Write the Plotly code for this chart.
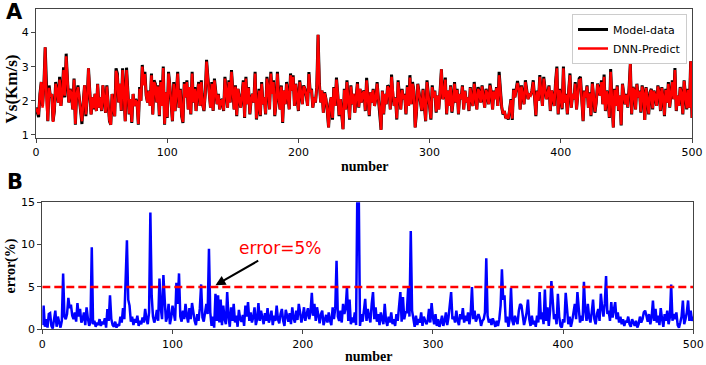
import plotly.graph_objects as go

W, H = 706, 365

def parse(s):
    return [float(v) for v in s.split()]

# Model-data (Vs, Km/s), index 0..500
model_vs = parse("""
1.80 1.62 1.52 2.20 2.55 1.85 2.45 3.57 2.10 1.40
2.45 2.10 2.20 1.40 1.70 2.55 2.30 1.95 2.70 1.85
2.25 2.98 2.10 3.38 2.60 1.95 2.35 2.20 1.75 2.65
1.30 2.20 2.45 2.10 1.70 1.32 1.95 2.45 1.55 2.05
2.95 2.40 1.60 2.10 1.75 2.20 1.70 2.50 1.80 2.10
1.70 2.45 2.10 1.65 2.45 1.90 1.40 1.30 2.20 1.80
1.55 2.95 2.80 1.95 2.50 1.70 2.95 2.25 1.40 2.97
2.40 1.60 2.05 1.35 2.20 1.85 2.05 1.95 1.30 2.40
2.00 3.05 2.50 2.85 2.15 1.95 2.30 1.85 2.80 1.60
2.60 2.50 1.95 2.45 1.55 2.60 1.85 3.00 1.30 2.25
1.50 2.85 2.45 2.00 1.40 2.55 1.70 2.25 2.85 1.80
2.35 1.55 1.35 2.55 2.10 2.60 1.75 2.40 1.60 2.85
1.95 2.40 1.70 2.25 2.55 1.85 2.60 1.90 1.70 2.20
3.20 2.70 2.15 1.80 2.55 1.70 2.65 2.30 1.90 2.20
1.75 2.00 2.05 1.70 2.70 2.30 1.80 2.60 1.95 2.90
2.10 1.75 2.45 1.55 2.35 2.00 1.80 2.15 2.60 1.50
2.70 1.90 2.40 1.60 2.05 2.20 1.95 2.85 1.45 1.80
2.35 1.55 2.55 1.90 2.10 1.60 2.70 2.40 1.75 2.85
2.20 2.60 1.55 1.95 2.85 2.10 1.75 2.45 1.35 2.30
1.90 2.55 2.10 1.75 2.80 2.30 2.75 1.85 2.50 2.10
1.70 2.60 2.25 1.90 2.45 2.35 2.15 1.85 2.84 2.25
2.35 1.80 2.10 1.95 2.40 3.93 2.50 1.95 2.30 1.65
2.25 2.05 1.70 1.22 1.90 2.10 1.45 2.40 1.85 2.68
2.20 1.55 2.05 1.60 1.17 2.35 1.75 2.60 2.10 1.45
2.45 1.90 2.20 1.65 2.10 2.55 1.80 2.35 1.95 2.20
2.30 1.70 2.67 2.10 1.55 2.25 1.95 2.35 1.85 2.05
2.55 2.05 1.70 1.15 2.30 1.60 2.20 1.90 2.45 2.40
1.75 2.77 2.15 1.85 2.10 1.45 2.60 2.05 1.75 2.35
2.05 2.20 1.60 2.45 1.85 2.75 1.90 2.55 2.30 1.22
1.65 2.50 2.25 2.05 1.70 2.35 1.90 1.40 2.60 2.20
1.85 1.45 2.45 2.10 2.30 1.65 2.15 1.75 2.30 2.92
2.05 2.20 2.68 1.60 2.30 1.85 2.45 1.65 2.00 2.55
1.95 2.35 1.60 2.20 2.05 2.45 1.75 2.30 1.95 2.10
1.70 2.40 2.05 1.85 2.55 2.20 1.75 2.40 2.25 1.95
2.45 2.10 1.80 2.35 2.20 1.90 2.50 2.25 1.75 2.30
2.05 2.40 1.85 2.85 2.30 1.80 1.60 1.70 1.50 1.55
1.45 1.85 2.05 1.44 2.35 2.10 2.40 2.58 2.35 1.75
2.45 2.15 1.90 2.60 2.25 2.05 2.20 2.15 2.30 2.60
2.10 1.55 2.30 2.00 2.75 2.15 1.85 2.70 2.40 2.05
2.20 2.45 1.70 2.30 2.10 1.85 2.55 3.00 1.60 2.35
2.05 1.75 3.00 1.95 2.20 1.60 2.30 2.80 1.80 2.20
2.05 2.55 1.75 2.20 2.65 2.70 1.95 1.40 2.30 2.10
2.45 1.80 2.25 1.55 2.55 2.20 1.65 1.95 2.50 2.35
2.15 2.60 1.90 2.77 1.70 2.30 2.10 1.50 2.93 2.05
1.22 2.35 1.85 2.45 1.70 2.15 1.28 2.50 2.20 1.90
2.20 1.80 2.35 3.10 1.60 2.40 2.30 1.75 2.50 2.10
2.30 1.65 2.45 2.20 1.44 2.40 2.05 1.60 2.25 2.35
1.75 2.30 2.15 1.85 2.45 2.25 1.70 2.40 2.10 1.55
2.35 1.95 2.55 1.80 2.20 2.60 2.05 2.96 1.70 2.15
1.85 2.40 2.20 1.60 2.60 2.10 1.75 2.35 1.80 3.16
1.50
""")

# DNN-Predict (Vs, Km/s), index 0..500
dnn_vs = parse("""
1.78 1.70 1.60 2.18 2.55 1.80 2.45 3.57 2.05 1.42
2.38 2.12 2.20 1.38 1.72 2.50 2.30 1.95 2.62 1.85
2.20 2.90 2.15 3.30 2.60 1.95 2.33 2.20 1.75 2.62
1.32 2.18 2.40 2.10 1.72 1.40 1.95 2.45 1.60 2.05
2.95 2.38 1.60 2.10 1.78 2.20 1.70 2.48 1.80 2.10
1.72 2.45 2.08 1.65 2.42 1.90 1.42 1.30 2.20 1.80
1.55 2.88 2.72 1.95 2.50 1.72 2.90 2.25 1.40 2.90
2.40 1.62 2.05 1.38 2.20 1.85 2.02 1.95 1.32 2.35
2.00 3.00 2.45 2.78 2.15 1.95 2.28 1.85 2.75 1.60
2.55 2.45 1.95 2.42 1.58 2.55 1.85 2.96 1.32 2.25
1.52 2.80 2.45 2.00 1.42 2.50 1.70 2.25 2.80 1.80
2.32 1.58 1.38 2.50 2.10 2.55 1.75 2.40 1.62 2.80
1.95 2.35 1.70 2.25 2.50 1.85 2.55 1.90 1.72 2.20
3.15 2.65 2.15 1.80 2.50 1.72 2.60 2.30 1.90 2.18
1.75 2.00 2.02 1.72 2.65 2.30 1.80 2.55 1.95 2.85
2.10 1.75 2.42 1.58 2.35 2.00 1.80 2.15 2.55 1.52
2.65 1.90 2.38 1.62 2.05 2.20 1.95 2.80 1.48 1.80
2.30 1.58 2.50 1.90 2.10 1.62 2.65 2.40 1.75 2.80
2.20 2.55 1.58 1.95 2.80 2.10 1.75 2.42 1.38 2.30
1.90 2.50 2.10 1.75 2.75 2.30 2.70 1.85 2.48 2.10
1.72 2.55 2.25 1.90 2.42 2.35 2.15 1.85 2.78 2.25
2.32 1.80 2.10 1.95 2.38 3.93 2.48 1.95 2.30 1.65
2.22 2.05 1.72 1.22 1.90 2.10 1.50 2.38 1.85 2.62
2.20 1.58 2.05 1.62 1.17 2.32 1.75 2.55 2.10 1.48
2.42 1.90 2.20 1.65 2.10 2.50 1.82 2.35 1.95 2.20
2.28 1.72 2.60 2.10 1.58 2.25 1.95 2.32 1.85 2.05
2.50 2.05 1.72 1.15 2.28 1.62 2.20 1.90 2.42 2.35
1.75 2.70 2.15 1.85 2.08 1.48 2.55 2.05 1.75 2.32
2.05 2.18 1.62 2.40 1.85 2.68 1.90 2.50 2.28 1.22
1.68 2.48 2.25 2.05 1.72 2.32 1.90 1.42 2.55 2.20
1.85 1.48 2.40 2.10 2.28 1.68 2.15 1.75 2.28 2.92
2.05 2.18 2.62 1.62 2.30 1.85 2.42 1.68 2.00 2.50
1.95 2.32 1.62 2.20 2.05 2.42 1.75 2.28 1.95 2.10
1.72 2.38 2.05 1.85 2.50 2.20 1.75 2.35 2.25 1.95
2.42 2.10 1.80 2.32 2.20 1.90 2.45 2.25 1.75 2.28
2.05 2.38 1.85 2.75 2.28 1.80 1.62 1.70 1.52 1.55
1.48 1.85 2.02 1.48 2.32 2.10 2.38 2.52 2.35 1.75
2.42 2.15 1.90 2.55 2.25 2.05 2.18 2.15 2.28 2.55
2.10 1.58 2.28 2.00 2.70 2.15 1.85 2.65 2.38 2.05
2.20 2.42 1.72 2.30 2.10 1.85 2.52 2.95 1.62 2.32
2.05 1.78 2.95 1.95 2.18 1.62 2.30 2.75 1.80 2.20
2.05 2.50 1.75 2.18 2.60 2.62 1.95 1.42 2.28 2.10
2.42 1.80 2.22 1.58 2.50 2.20 1.68 1.95 2.48 2.32
2.15 2.55 1.90 2.70 1.72 2.28 2.10 1.52 2.85 2.05
1.22 2.32 1.85 2.42 1.72 2.15 1.30 2.48 2.20 1.90
2.18 1.82 2.32 3.10 1.62 2.38 2.30 1.75 2.48 2.10
2.28 1.68 2.42 2.20 1.44 2.38 2.05 1.62 2.22 2.32
1.78 2.28 2.15 1.85 2.42 2.25 1.72 2.38 2.10 1.58
2.32 1.95 2.50 1.82 2.20 2.55 2.05 2.90 1.72 2.15
1.85 2.38 2.20 1.62 2.58 2.10 1.78 2.32 1.80 3.16
1.50
""")

# Relative error (%), index 0..500
error_pct = parse("""
0.5 2.8 0.3 1.2 0.2 1.8 1.9 0.4 0.1 1.3
2.2 0.3 1.5 0.8 0.2 1.0 6.6 1.5 1.2 1.8
3.7 2.5 2.9 1.6 1.2 2.0 0.9 3.1 1.5 2.4
0.8 1.2 2.0 0.5 2.6 1.3 0.4 0.8 9.7 0.6
1.0 0.3 0.8 0.5 1.2 0.4 0.9 0.6 1.3 0.2
2.4 1.0 4.0 1.2 0.5 0.3 0.9 0.2 0.6 0.4
1.5 0.8 2.5 1.2 5.0 10.5 3.5 2.8 0.9 1.5
0.5 1.2 0.8 1.6 0.4 1.0 0.6 1.4 0.8 2.4
1.2 0.6 2.0 13.8 4.0 1.5 0.8 1.3 2.3 1.0
6.0 2.5 1.2 6.4 3.5 0.9 1.5 3.0 0.6 1.4
2.8 1.8 1.0 5.5 3.0 6.6 1.5 0.9 2.2 1.2
3.0 1.6 0.8 2.5 1.2 3.1 2.0 1.0 0.5 1.8
1.0 2.5 5.3 1.4 0.9 2.0 3.0 1.8 9.5 2.0
0.4 1.5 0.2 4.2 1.0 4.0 0.8 3.5 0.5 2.8
1.2 0.6 4.4 1.5 0.3 2.6 1.0 3.0 0.8 1.6
0.3 2.3 1.2 0.9 1.7 0.4 2.8 1.5 3.2 1.0
2.0 0.8 1.4 2.6 0.5 1.2 3.1 1.0 2.2 1.4
0.6 1.9 1.0 2.5 0.8 1.3 2.2 0.5 1.6 1.0
2.8 1.2 0.7 1.8 2.4 1.0 0.4 2.3 1.5 0.9
1.9 0.6 2.6 1.3 0.8 2.2 1.1 3.0 2.0 0.8
1.5 2.6 1.0 1.8 2.5 1.2 2.0 4.3 1.6 3.0
1.0 2.6 1.4 0.7 1.8 2.2 0.5 1.2 1.7 0.8
2.0 1.0 0.5 2.6 1.2 2.5 8.1 1.5 1.0 2.2
0.8 3.0 1.8 2.5 5.0 1.0 3.5 0.6 1.4 0.8
2.0 0.5 17.0 17.0 0.4 1.8 0.9 2.2 3.6 1.0
2.4 1.5 0.8 3.0 4.4 1.2 2.6 0.9 1.8 0.5
2.0 1.2 0.6 3.0 1.0 0.4 1.5 0.8 2.0 0.6
1.2 0.4 1.8 1.0 2.5 4.4 0.9 3.8 1.2 2.0
2.0 4.9 1.5 11.6 2.2 1.0 0.3 1.6 0.5 1.2
0.8 2.0 0.4 1.5 1.0 0.6 1.0 2.4 0.8 3.1
1.4 0.6 1.8 0.4 1.2 0.3 0.8 1.6 0.4 1.0
2.0 0.5 1.4 2.8 4.4 1.2 1.5 0.8 2.2 1.0
0.5 1.8 1.2 2.5 0.8 1.6 1.0 2.0 0.6 1.8
5.0 1.2 2.2 0.9 1.5 1.8 1.3 0.4 1.0 1.2
2.0 8.4 1.6 0.8 1.2 0.5 1.3 0.9 0.3 1.0
0.4 1.2 2.8 7.1 3.5 4.0 0.8 1.5 0.3 1.2
4.9 1.0 0.5 1.6 1.0 0.6 2.2 3.0 2.8 1.4
0.5 1.2 2.0 3.5 1.2 0.4 1.6 0.6 1.0 0.3
1.6 0.8 4.4 1.2 2.0 0.6 4.7 1.0 2.6 0.4
2.2 5.7 3.0 1.2 1.8 0.6 4.2 1.5 0.4 0.2
1.2 0.8 4.3 2.0 0.6 1.5 0.3 1.0 2.0 3.0
1.2 4.4 2.5 0.8 1.6 1.0 5.6 2.2 1.0 3.0
1.4 0.8 2.0 3.5 1.2 0.6 1.8 2.4 1.0 4.2
2.6 1.5 3.0 6.3 1.8 2.2 1.0 3.2 1.4 2.5
3.2 1.2 2.0 0.8 1.5 0.6 1.2 0.4 1.0 0.8
1.5 0.6 0.3 1.2 0.8 0.4 1.0 0.2 0.6 1.5
0.8 1.2 2.0 2.2 1.6 0.9 1.8 0.6 1.4 3.4
1.0 2.4 0.8 1.6 0.5 2.5 1.2 0.3 1.8 1.0
2.2 0.6 1.4 5.3 1.0 1.8 1.2 2.0 0.5 0.2
0.8 1.5 3.4 0.6 1.2 2.0 3.4 1.0 2.2 1.0
1.5
""")

sample_no = list(range(len(model_vs)))
threshold = 5.0
x_ticks = [0, 100, 200, 300, 400, 500]

def px_x(p):
    return p / W

def px_y(p):
    return 1 - p / H

fig = go.Figure()
fig.add_trace(go.Scatter(x=sample_no, y=model_vs, mode="lines", name="Model-data",
                         line=dict(color="black", width=3), xaxis="x", yaxis="y"))
fig.add_trace(go.Scatter(x=sample_no, y=dnn_vs, mode="lines", name="DNN-Predict",
                         line=dict(color="#ff0000", width=2.5), xaxis="x", yaxis="y"))
fig.add_trace(go.Scatter(x=sample_no[:len(error_pct)], y=error_pct, mode="lines",
                         showlegend=False, line=dict(color="#0000ff", width=2.5),
                         xaxis="x2", yaxis="y2"))
fig.add_trace(go.Scatter(x=[x_ticks[0], x_ticks[-1]], y=[threshold, threshold], mode="lines",
                         showlegend=False, line=dict(color="#ff0000", width=2.5, dash="8px,4px"),
                         xaxis="x2", yaxis="y2"))

tickfont = dict(family="DejaVu Sans", size=11, color="black")
axis_common = dict(showline=True, mirror=True, linecolor="#444", linewidth=1.3,
                   ticks="outside", ticklen=4, tickcolor="#444", tickwidth=1,
                   showgrid=False, zeroline=False, tickfont=tickfont, automargin=False)

fig.update_layout(
    template="none",
    width=W, height=H, margin=dict(l=0, r=0, t=0, b=0, pad=0, autoexpand=False),
    plot_bgcolor="white", paper_bgcolor="white",
    xaxis=dict(domain=[px_x(36), px_x(692)], range=[0, 500], tickvals=x_ticks,
               anchor="y", **axis_common),
    yaxis=dict(domain=[px_y(138), px_y(9.3)], range=[0.91, 4.68], tickvals=[1, 2, 3, 4],
               anchor="x", **axis_common),
    xaxis2=dict(domain=[px_x(42.3), px_x(693.3)], range=[0, 500], tickvals=x_ticks,
                anchor="y2", **axis_common),
    yaxis2=dict(domain=[px_y(329.3), px_y(202.3)], range=[0, 15], tickvals=[0, 5, 10, 15],
                anchor="x2", **axis_common),
    legend=dict(x=px_x(687), xanchor="right", y=px_y(14), yanchor="top",
                bgcolor="white", bordercolor="#cccccc", borderwidth=1,
                font=dict(family="DejaVu Sans", size=11, color="black"),
                itemwidth=30, tracegroupgap=0),
    showlegend=True,
)

serif = "Liberation Serif"
anns = [
    dict(text="<b>A</b>", x=px_x(14), y=px_y(12), font=dict(family="DejaVu Sans", size=21, color="black")),
    dict(text="<b>B</b>", x=px_x(14.5), y=px_y(182), font=dict(family="DejaVu Sans", size=21, color="black")),
    dict(text="<b>number</b>", x=px_x(364), y=px_y(166), font=dict(family=serif, size=14, color="black")),
    dict(text="<b>number</b>", x=px_x(368), y=px_y(356), font=dict(family=serif, size=14, color="black")),
    dict(text="<b>Vs(Km/s)</b>", x=px_x(10.5), y=px_y(89), textangle=-90, font=dict(family=serif, size=17, color="black")),
    dict(text="<b>error(%)</b>", x=px_x(10.5), y=px_y(266), textangle=-90, font=dict(family=serif, size=14, color="black")),
    dict(text="error=5%", x=px_x(280), y=px_y(248), font=dict(family="DejaVu Sans", size=17, color="#ff0000")),
]
for a in anns:
    a.update(xref="paper", yref="paper", showarrow=False, xanchor="center", yanchor="middle")
    fig.add_annotation(**a)

fig.add_annotation(x=133, y=5.2, xref="x2", yref="y2", ax=167, ay=8.2, axref="x2", ayref="y2",
                   text="", showarrow=True, arrowhead=2, arrowsize=1, arrowwidth=2, arrowcolor="black")

fig.write_html("out.html", config={"displayModeBar": False},
               post_script="document.body.style.margin='0px';document.body.style.padding='0px';")
